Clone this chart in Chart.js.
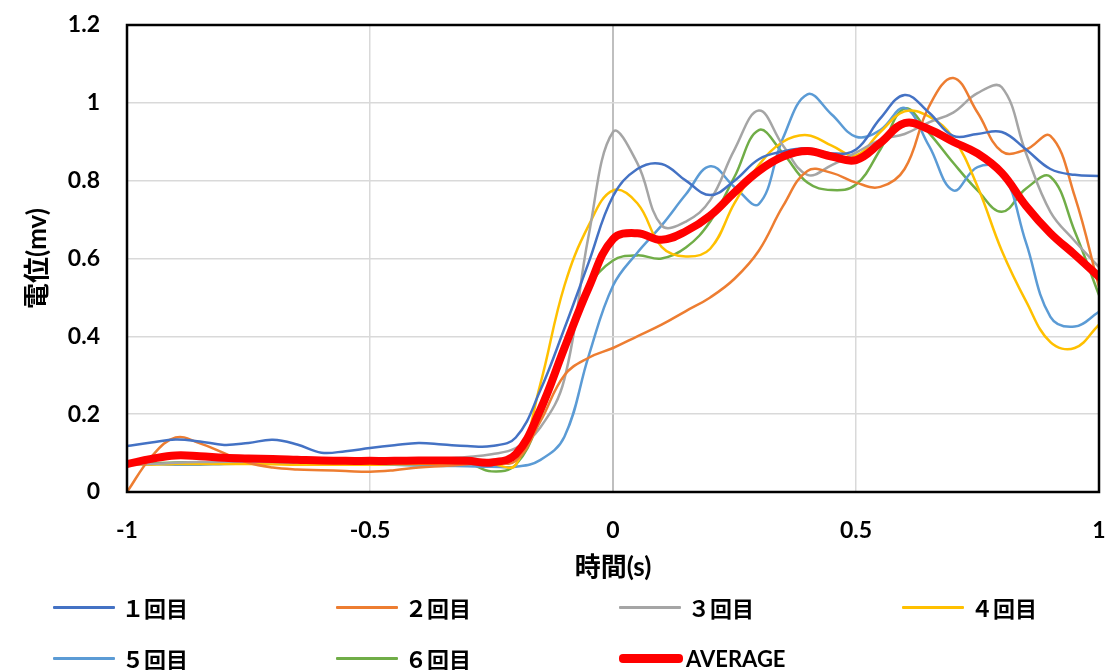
<!DOCTYPE html>
<html><head><meta charset="utf-8">
<script src="https://cdn.jsdelivr.net/npm/chart.js@4.4.1/dist/chart.umd.min.js"></script>
<style>
html,body{margin:0;padding:0;background:#fff;}
#wrap{position:relative;width:1110px;height:670px;overflow:hidden;}
#c{position:absolute;left:0;top:0;}
.lg{position:absolute;display:flex;align-items:center;height:30px;font:700 22px Lato,"Noto Sans CJK JP",sans-serif;color:#000;white-space:nowrap;}
.lg i{display:inline-block;}
</style></head><body>
<div id="wrap"><canvas id="c" width="1110" height="670"></canvas><div id="legend"></div></div>
<script>
const times = [-1,-0.95,-0.9,-0.85,-0.8,-0.75,-0.7,-0.65,-0.6,-0.55,-0.5,-0.45,-0.4,-0.35,-0.3,-0.25,-0.2,-0.15,-0.1,-0.05,0,0.05,0.1,0.15,0.2,0.25,0.3,0.35,0.4,0.45,0.5,0.55,0.6,0.65,0.7,0.75,0.8,0.85,0.9,0.95,1];
const seriesNames = ['１回目','２回目','３回目','４回目','５回目','６回目','AVERAGE'];
const seriesColors = ['#4472C4','#ED7D31','#A5A5A5','#FFC000','#5B9BD5','#70AD47','#FF0000'];
const run1 = [0.118,0.127,0.135,0.130,0.121,0.126,0.134,0.122,0.101,0.105,0.113,0.120,0.126,0.122,0.118,0.118,0.140,0.26,0.42,0.59,0.76,0.83,0.843,0.80,0.763,0.80,0.855,0.875,0.883,0.87,0.88,0.96,1.02,0.975,0.915,0.92,0.925,0.88,0.83,0.815,0.812];
const run2 = [0.0,0.09,0.14,0.125,0.10,0.075,0.063,0.058,0.056,0.054,0.052,0.056,0.063,0.067,0.071,0.075,0.08,0.18,0.30,0.345,0.37,0.40,0.43,0.465,0.50,0.548,0.62,0.735,0.825,0.82,0.795,0.784,0.83,0.99,1.064,0.975,0.875,0.88,0.915,0.76,0.527];
const run3 = [0.07,0.072,0.075,0.077,0.078,0.078,0.077,0.077,0.077,0.078,0.08,0.082,0.084,0.086,0.09,0.097,0.113,0.165,0.29,0.66,0.925,0.845,0.685,0.695,0.75,0.88,0.98,0.89,0.815,0.84,0.872,0.905,0.92,0.95,0.975,1.025,1.04,0.87,0.72,0.645,0.578];
const run4 = [0.07,0.07,0.072,0.072,0.072,0.072,0.071,0.07,0.07,0.07,0.07,0.071,0.072,0.073,0.074,0.072,0.07,0.275,0.53,0.685,0.775,0.742,0.63,0.605,0.625,0.742,0.84,0.9,0.917,0.89,0.865,0.925,0.978,0.965,0.91,0.785,0.62,0.49,0.385,0.37,0.43];
const run5 = [0.075,0.072,0.07,0.07,0.072,0.073,0.073,0.072,0.071,0.07,0.07,0.07,0.068,0.067,0.066,0.065,0.065,0.082,0.142,0.35,0.53,0.615,0.685,0.765,0.837,0.784,0.74,0.91,1.022,0.97,0.913,0.93,0.987,0.89,0.775,0.835,0.825,0.64,0.45,0.425,0.463];
const run6 = [0.072,0.074,0.076,0.076,0.076,0.075,0.075,0.076,0.077,0.078,0.078,0.078,0.078,0.078,0.075,0.053,0.07,0.19,0.37,0.525,0.595,0.608,0.60,0.628,0.695,0.81,0.93,0.87,0.795,0.776,0.79,0.88,0.985,0.923,0.846,0.775,0.72,0.78,0.81,0.67,0.506];
const average = [0.072,0.085,0.094,0.092,0.088,0.086,0.085,0.083,0.081,0.08,0.08,0.08,0.081,0.081,0.08,0.076,0.097,0.21,0.37,0.525,0.65,0.665,0.648,0.67,0.71,0.77,0.825,0.862,0.876,0.862,0.853,0.897,0.948,0.932,0.9,0.87,0.82,0.735,0.665,0.61,0.553];
const xTicks = [-1,-0.5,0,0.5,1];
const xTickLabels = ['-1','-0.5','0','0.5','1'];
const yTicks = [0,0.2,0.4,0.6,0.8,1,1.2];
const yTickLabels = ['0','0.2','0.4','0.6','0.8','1','1.2'];
const xTitle = '時間(s)';
const yTitle = '電位(mv)';

const allSeries = [run1,run2,run3,run4,run5,run6,average];
const datasets = allSeries.map((vals,i)=>({
  label: seriesNames[i],
  data: times.map((t,k)=>({x:t,y:vals[k]})),
  borderColor: seriesColors[i],
  backgroundColor: seriesColors[i],
  borderWidth: i===6 ? 8 : 2.5,
  pointRadius: 0,
  tension: 0.4,
  fill: false,
  order: i===6 ? -1 : i,
  borderCapStyle: 'round',
  borderJoinStyle: 'round'
}));

const frame = {
  id:'frame',
  afterDatasetsDraw(chart){
    const {ctx, chartArea:a} = chart;
    ctx.save();
    ctx.strokeStyle = '#000';
    ctx.lineWidth = 2.5;
    ctx.strokeRect(a.left, a.top, a.right-a.left, a.bottom-a.top);
    ctx.restore();
  }
};

const tickFont = {family:'Lato, "Noto Sans CJK JP"', size:23, weight:'bold'};
const titleFont = {family:'Lato, "Noto Sans CJK JP"', size:26, weight:'bold'};

const chart = new Chart(document.getElementById('c'), {
  type:'line',
  data:{datasets},
  plugins:[frame],
  options:{
    responsive:false, animation:false, devicePixelRatio:1,
    layout:{padding:{left:0,right:11,top:25,bottom:78}},
    plugins:{legend:{display:false}, tooltip:{enabled:false}},
    scales:{
      x:{type:'linear', min:-1, max:1,
        afterBuildTicks(s){ s.ticks = xTicks.map(v=>({value:v})); },
        afterFit(s){ s.height = 100; s.paddingLeft = 0; s.paddingRight = 0; },
        grid:{drawTicks:false, color:c=> (c.tick && c.tick.value===0) ? '#BFBFBF' : '#D9D9D9', lineWidth:c=> (c.tick && c.tick.value===0) ? 2 : 1.5},
        border:{display:false},
        ticks:{padding:25, color:'#000', font:tickFont, maxRotation:0, autoSkip:false,
          callback:(v)=>{ const k = xTicks.indexOf(v); return k>=0 ? xTickLabels[k] : ''; }},
        title:{display:true, text:xTitle, color:'#000', font:titleFont, padding:{top:0,bottom:9}}
      },
      y:{type:'linear', min:0, max:1.2,
        afterBuildTicks(s){ s.ticks = yTicks.map(v=>({value:v})); },
        afterFit(s){ s.width = 127; s.paddingTop = 0; s.paddingBottom = 0; },
        grid:{drawTicks:false, color:'#D9D9D9', lineWidth:1.5},
        border:{display:false},
        ticks:{padding:27, color:'#000', font:tickFont, autoSkip:false,
          callback:(v)=>{ const k = yTicks.indexOf(v); return k>=0 ? yTickLabels[k] : ''; }},
        title:{display:true, text:yTitle, color:'#000', font:titleFont, padding:{top:22,bottom:0}}
      }
    }
  }
});

// HTML legend built from the datasets
const lg = document.getElementById('legend');
chart.data.datasets.forEach((ds,i)=>{
  const col = i % 4, row = Math.floor(i/4);
  const d = document.createElement('div');
  d.className = 'lg';
  d.style.left = (53 + col*283) + 'px';
  d.style.top = (592 + row*51) + 'px';
  const sw = document.createElement('i');
  const isAvg = i === 6;
  sw.style.width = (isAvg ? 64 : 62) + 'px';
  sw.style.height = (isAvg ? 9 : 3) + 'px';
  sw.style.borderRadius = isAvg ? '4px' : '1px';
  sw.style.background = ds.borderColor;
  sw.style.marginRight = (isAvg ? 3 : 7) + 'px';
  d.appendChild(sw);
  const t = document.createElement('span');
  t.textContent = ds.label;
  d.appendChild(t);
  lg.appendChild(d);
});
</script>
</body></html>
